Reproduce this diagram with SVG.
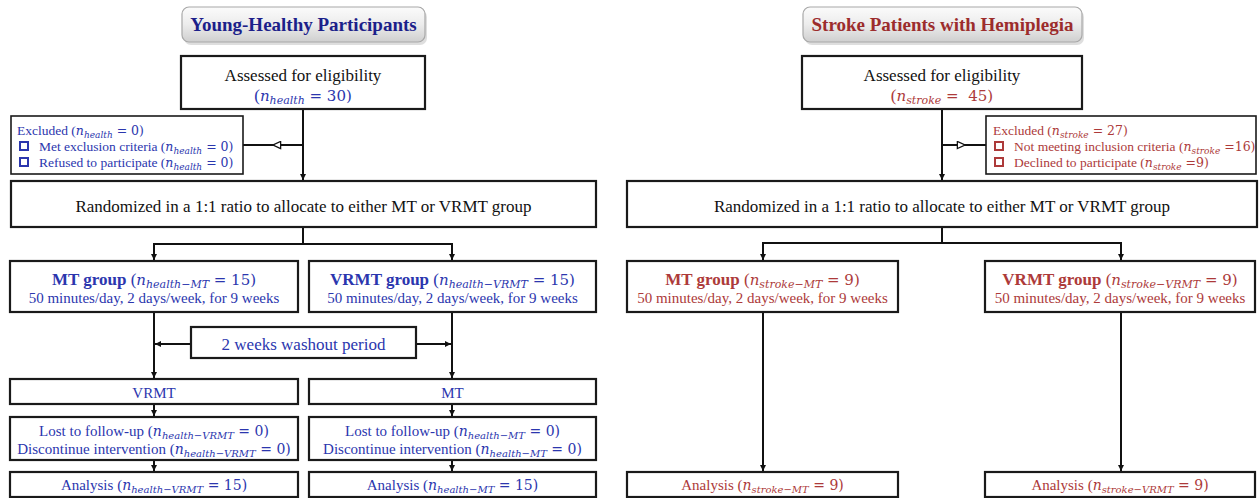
<svg xmlns="http://www.w3.org/2000/svg" width="1260" height="498" viewBox="0 0 1260 498">
<defs>
<linearGradient id="hg" x1="0" y1="0" x2="0" y2="1">
<stop offset="0" stop-color="#fbfbfb"/>
<stop offset="0.5" stop-color="#ececec"/>
<stop offset="1" stop-color="#cfcfcf"/>
</linearGradient>
<marker id="ah" viewBox="0 0 10 10" refX="10" refY="5" markerWidth="6" markerHeight="6" markerUnits="userSpaceOnUse" orient="auto">
<path d="M0,0 L10,5 L0,10 z" fill="#111"/>
</marker>
<marker id="oh" viewBox="0 0 10 10" refX="9.5" refY="5" markerWidth="9" markerHeight="9" markerUnits="userSpaceOnUse" orient="auto">
<path d="M1,1 L9.5,5 L1,9 z" fill="#fff" stroke="#111" stroke-width="1.4"/>
</marker>
<style>
.box{fill:#fff;stroke:#1a1a1a;stroke-width:2.2}
.ex{fill:#fff;stroke:#1a1a1a;stroke-width:1.6}
.hdr{fill:url(#hg);stroke:#a8a8a8;stroke-width:1.2}
.shd{fill:#c8c8c8;opacity:0.6}
.cn{fill:none;stroke:#111;stroke-width:2}
.tx{font-family:"Liberation Serif","Times New Roman",serif}
.c{text-anchor:middle}
.f17{font-size:17px}
.f15{font-size:15px}
.f13{font-size:13.5px}
.f19{font-size:19px;font-weight:bold}
.b{font-weight:bold}
.k{fill:#111}
.bl{fill:#2b36ae}
.rd{fill:#ad3a3a}
.nv{fill:#1c1f8a}
.dr{fill:#9c2c2c}
.mi{font-family:"DejaVu Serif",serif;font-style:italic}
.mn{font-family:"DejaVu Serif",serif}
.m17{font-size:15px}.s17{font-size:11px}
.m15{font-size:14px}.s15{font-size:10px}
.m13{font-size:12.5px}.s13{font-size:9px}
.cbb{fill:#fff;stroke:#2b36ae;stroke-width:2}
.cbr{fill:#fff;stroke:#ad3a3a;stroke-width:2}
</style>
</defs>

<g id="connectors">
<path class="cn" d="M303,109 V180" marker-end="url(#ah)"/>
<path class="cn" d="M303,145 H273" marker-end="url(#oh)"/>
<path class="cn" d="M273,145 H243"/>
<path class="cn" d="M303,227 V244"/>
<path class="cn" d="M303,244 H154 V260" marker-end="url(#ah)"/>
<path class="cn" d="M303,244 H452 V260" marker-end="url(#ah)"/>
<path class="cn" d="M154,312 V378" marker-end="url(#ah)"/>
<path class="cn" d="M452,312 V378" marker-end="url(#ah)"/>
<path class="cn" d="M191,344 H155" marker-end="url(#ah)"/>
<path class="cn" d="M416,344 H451" marker-end="url(#ah)"/>
<path class="cn" d="M154,404 V416" marker-end="url(#ah)"/>
<path class="cn" d="M452,404 V416" marker-end="url(#ah)"/>
<path class="cn" d="M154,460 V471" marker-end="url(#ah)"/>
<path class="cn" d="M452,460 V471" marker-end="url(#ah)"/>
<path class="cn" d="M942,109 V180" marker-end="url(#ah)"/>
<path class="cn" d="M942,145 H965" marker-end="url(#oh)"/>
<path class="cn" d="M965,145 H986"/>
<path class="cn" d="M942,227 V243"/>
<path class="cn" d="M942,243 H763 V260" marker-end="url(#ah)"/>
<path class="cn" d="M942,243 H1121 V260" marker-end="url(#ah)"/>
<path class="cn" d="M763,312 V471" marker-end="url(#ah)"/>
<path class="cn" d="M1121,312 V471" marker-end="url(#ah)"/>
</g>

<g id="hdr-health">
<rect class="shd" x="184" y="10" width="243" height="35" rx="7"/>
<rect class="hdr" x="182" y="7" width="243" height="35" rx="7"/>
<text class="tx c f19 nv" x="303.5" y="31">Young-Healthy Participants</text>
</g>

<g id="assess-health">
<rect class="box" x="181" y="56" width="244" height="53"/>
<text class="tx c f17 k" x="303" y="81">Assessed for eligibility</text>
<text class="tx c f17 bl" x="303" y="101">(<tspan class="mi m17">n</tspan><tspan class="mi s17" dy="3">health</tspan><tspan class="mn m17" dy="-3"> = 30)</tspan></text>
</g>

<g id="excl-health">
<rect class="ex" x="11" y="116" width="232" height="58"/>
<text class="tx f13 bl" x="17" y="135">Excluded (<tspan class="mi m13">n</tspan><tspan class="mi s13" dy="3">health</tspan><tspan class="mn m13" dy="-3"> = 0)</tspan></text>
<rect class="cbb" x="20" y="142" width="8" height="8"/>
<text class="tx f13 bl" x="39" y="150.5">Met exclusion criteria (<tspan class="mi m13">n</tspan><tspan class="mi s13" dy="3">health</tspan><tspan class="mn m13" dy="-3"> = 0)</tspan></text>
<rect class="cbb" x="20" y="158" width="8" height="8"/>
<text class="tx f13 bl" x="39" y="167">Refused to participate (<tspan class="mi m13">n</tspan><tspan class="mi s13" dy="3">health</tspan><tspan class="mn m13" dy="-3"> = 0)</tspan></text>
</g>

<g id="rand-health">
<rect class="box" x="11" y="181" width="585" height="46"/>
<text class="tx c f17 k" x="303.5" y="211.5">Randomized in a 1:1 ratio to allocate to either MT or VRMT group</text>
</g>

<g id="mt-health">
<rect class="box" x="10" y="261" width="288" height="51"/>
<text class="tx c f17 bl" x="154" y="285"><tspan class="b">MT group</tspan> (<tspan class="mi m17">n</tspan><tspan class="mi s17" dy="3">health−MT</tspan><tspan class="mn m17" dy="-3"> = 15)</tspan></text>
<text class="tx c f15 bl" x="154" y="303">50 minutes/day, 2 days/week, for 9 weeks</text>
</g>

<g id="vrmt-health">
<rect class="box" x="309" y="261" width="287" height="51"/>
<text class="tx c f17 bl" x="452.5" y="285"><tspan class="b">VRMT group</tspan> (<tspan class="mi m17">n</tspan><tspan class="mi s17" dy="3">health−VRMT</tspan><tspan class="mn m17" dy="-3"> = 15)</tspan></text>
<text class="tx c f15 bl" x="452.5" y="303">50 minutes/day, 2 days/week, for 9 weeks</text>
</g>

<g id="washout">
<rect class="box" x="191" y="327" width="225" height="31"/>
<text class="tx c f17 bl" x="303.5" y="349.5">2 weeks washout period</text>
</g>

<g id="cross-vrmt">
<rect class="box" x="10" y="379" width="288" height="25"/>
<text class="tx c f15 bl" x="154" y="397.5">VRMT</text>
</g>

<g id="cross-mt">
<rect class="box" x="309" y="379" width="287" height="25"/>
<text class="tx c f15 bl" x="452.5" y="397.5">MT</text>
</g>

<g id="lost-left">
<rect class="box" x="10" y="417" width="288" height="43"/>
<text class="tx c f15 bl" x="154" y="435.5">Lost to follow-up (<tspan class="mi m15">n</tspan><tspan class="mi s15" dy="3">health−VRMT</tspan><tspan class="mn m15" dy="-3"> = 0)</tspan></text>
<text class="tx c f15 bl" x="154" y="453.5">Discontinue intervention (<tspan class="mi m15">n</tspan><tspan class="mi s15" dy="3">health−VRMT</tspan><tspan class="mn m15" dy="-3"> = 0)</tspan></text>
</g>

<g id="lost-right">
<rect class="box" x="309" y="417" width="287" height="43"/>
<text class="tx c f15 bl" x="452.5" y="435.5">Lost to follow-up (<tspan class="mi m15">n</tspan><tspan class="mi s15" dy="3">health−MT</tspan><tspan class="mn m15" dy="-3"> = 0)</tspan></text>
<text class="tx c f15 bl" x="452.5" y="453.5">Discontinue intervention (<tspan class="mi m15">n</tspan><tspan class="mi s15" dy="3">health−MT</tspan><tspan class="mn m15" dy="-3"> = 0)</tspan></text>
</g>

<g id="analysis-health-vrmt">
<rect class="box" x="10" y="472" width="288" height="25"/>
<text class="tx c f15 bl" x="154" y="490">Analysis (<tspan class="mi m15">n</tspan><tspan class="mi s15" dy="3">health−VRMT</tspan><tspan class="mn m15" dy="-3"> = 15)</tspan></text>
</g>

<g id="analysis-health-mt">
<rect class="box" x="309" y="472" width="287" height="25"/>
<text class="tx c f15 bl" x="452.5" y="490">Analysis (<tspan class="mi m15">n</tspan><tspan class="mi s15" dy="3">health−MT</tspan><tspan class="mn m15" dy="-3"> = 15)</tspan></text>
</g>

<g id="hdr-stroke">
<rect class="shd" x="805" y="10" width="279" height="35" rx="7"/>
<rect class="hdr" x="803" y="7" width="279" height="35" rx="7"/>
<text class="tx c f19 dr" x="942.5" y="31">Stroke Patients with Hemiplegia</text>
</g>

<g id="assess-stroke">
<rect class="box" x="802" y="56" width="280" height="53"/>
<text class="tx c f17 k" x="942" y="81">Assessed for eligibility</text>
<text class="tx c f17 rd" x="942" y="101">(<tspan class="mi m17">n</tspan><tspan class="mi s17" dy="3">stroke</tspan><tspan class="mn m17" dy="-3"> = &#160;45)</tspan></text>
</g>

<g id="excl-stroke">
<rect class="ex" x="986" y="116" width="270" height="58"/>
<text class="tx f13 rd" x="993" y="135">Excluded (<tspan class="mi m13">n</tspan><tspan class="mi s13" dy="3">stroke</tspan><tspan class="mn m13" dy="-3"> = 27)</tspan></text>
<rect class="cbr" x="995" y="142" width="8" height="8"/>
<text class="tx f13 rd" x="1014" y="150.5">Not meeting inclusion criteria (<tspan class="mi m13">n</tspan><tspan class="mi s13" dy="3">stroke</tspan><tspan class="mn m13" dy="-3"> =16)</tspan></text>
<rect class="cbr" x="995" y="158" width="8" height="8"/>
<text class="tx f13 rd" x="1014" y="167">Declined to participate (<tspan class="mi m13">n</tspan><tspan class="mi s13" dy="3">stroke</tspan><tspan class="mn m13" dy="-3"> =9)</tspan></text>
</g>

<g id="rand-stroke">
<rect class="box" x="627" y="181" width="630" height="46"/>
<text class="tx c f17 k" x="942" y="211.5">Randomized in a 1:1 ratio to allocate to either MT or VRMT group</text>
</g>

<g id="mt-stroke">
<rect class="box" x="627" y="261" width="271" height="51"/>
<text class="tx c f17 rd" x="762.5" y="285"><tspan class="b">MT group</tspan> (<tspan class="mi m17">n</tspan><tspan class="mi s17" dy="3">stroke−MT</tspan><tspan class="mn m17" dy="-3"> = 9)</tspan></text>
<text class="tx c f15 rd" x="762.5" y="303">50 minutes/day, 2 days/week, for 9 weeks</text>
</g>

<g id="vrmt-stroke">
<rect class="box" x="985" y="261" width="270" height="51"/>
<text class="tx c f17 rd" x="1120" y="285"><tspan class="b">VRMT group</tspan> (<tspan class="mi m17">n</tspan><tspan class="mi s17" dy="3">stroke−VRMT</tspan><tspan class="mn m17" dy="-3"> = 9)</tspan></text>
<text class="tx c f15 rd" x="1120" y="303">50 minutes/day, 2 days/week, for 9 weeks</text>
</g>

<g id="analysis-stroke-mt">
<rect class="box" x="627" y="472" width="271" height="25"/>
<text class="tx c f15 rd" x="762.5" y="490">Analysis (<tspan class="mi m15">n</tspan><tspan class="mi s15" dy="3">stroke−MT</tspan><tspan class="mn m15" dy="-3"> = 9)</tspan></text>
</g>

<g id="analysis-stroke-vrmt">
<rect class="box" x="985" y="472" width="270" height="25"/>
<text class="tx c f15 rd" x="1120" y="490">Analysis (<tspan class="mi m15">n</tspan><tspan class="mi s15" dy="3">stroke−VRMT</tspan><tspan class="mn m15" dy="-3"> = 9)</tspan></text>
</g>
</svg>
